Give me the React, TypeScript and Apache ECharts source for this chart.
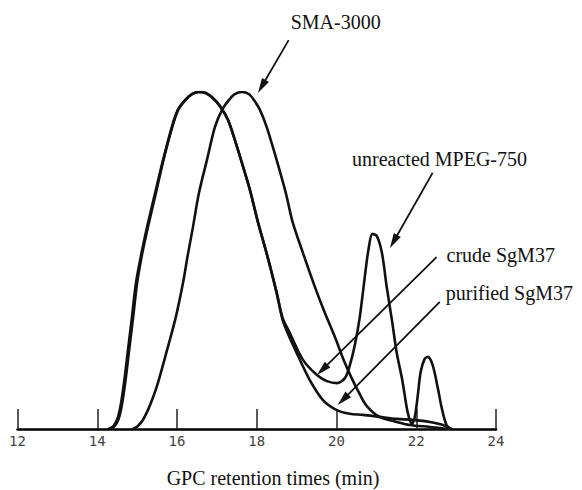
import React, { useEffect, useRef } from "react";
import * as echarts from "echarts";

// GPC traces: [retention time (min), detector response (% of peak)]
const smaTrace: [number, number][] = [
  [14.9, 0], [15.02, 0.9], [15.14, 2.6], [15.27, 5.6], [15.4, 9.4],
  [15.52, 13.6], [15.75, 23.4],
  [15.97, 33.2], [16.15, 43.3], [16.27, 51.6], [16.4, 59.9], [16.55, 70.0],
  [16.75, 79.8], [16.95, 89.6], [17.13, 94.7], [17.3, 97.6], [17.45, 99.4],
  [17.63, 100], [17.8, 99.4], [17.93, 97.6], [18.08, 94.7], [18.25, 89.6],
  [18.5, 79.8], [18.73, 70.0], [18.9, 61.4], [19.16, 52.2], [19.46, 42.1],
  [19.71, 34.4], [19.96, 27.3], [20.18, 20.5], [20.38, 15.1], [20.58, 10.4],
  [20.76, 6.8], [21.08, 3.6], [21.51, 2.1], [21.84, 1.2], [22.34, 0.6],
  [22.79, 0],
];

const crudeTrace: [number, number][] = [
  [14.28, 0], [14.4, 0.8], [14.5, 2.8], [14.58, 6.6], [14.67, 13.6], [14.77, 23.4],
  [14.87, 33.2], [14.97, 43.3], [15.1, 51.6], [15.25, 59.9], [15.45, 70.0],
  [15.65, 79.8], [15.87, 89.6], [16.02, 94.7], [16.2, 97.6], [16.37, 99.4],
  [16.55, 100], [16.72, 99.7], [16.87, 98.5], [17.08, 95.8], [17.28, 91.7],
  [17.45, 85.8], [17.63, 78.9], [17.83, 70.9], [18.03, 61.4], [18.28, 50.7],
  [18.5, 40.4], [18.65, 32.9], [18.83, 28.5], [19.16, 20.5], [19.51, 16.0],
  [19.76, 14.2], [20.01, 13.6], [20.21, 15.1], [20.33, 18.7], [20.46, 24.9],
  [20.58, 32.9], [20.7, 44.2], [20.8, 53.1], [20.9, 57.9], [21.01, 57.3],
  [21.14, 52.2], [21.26, 42.1], [21.39, 32.3], [21.51, 22.6], [21.64, 15.1],
  [21.71, 10.1], [21.79, 4.7], [21.89, 1.5], [21.96, 3.3], [22.04, 10.1],
  [22.11, 16.9], [22.21, 20.8], [22.29, 21.4], [22.41, 19.0], [22.54, 12.2],
  [22.64, 6.2], [22.76, 1.2], [22.89, 0],
];

const purifiedTrace: [number, number][] = [
  [14.31, 0], [14.43, 0.8], [14.53, 2.8], [14.61, 6.6], [14.7, 13.6], [14.8, 23.4],
  [14.9, 33.2], [15.0, 43.3], [15.12, 51.6], [15.27, 59.9], [15.47, 70.0],
  [15.66, 79.8], [15.88, 89.6], [16.03, 94.7], [16.21, 97.6], [16.38, 99.4],
  [16.55, 100], [16.72, 99.7], [16.87, 98.5], [17.08, 95.8], [17.28, 91.7],
  [17.45, 85.8], [17.63, 78.9], [17.83, 70.9], [18.03, 61.4], [18.28, 50.7],
  [18.5, 40.4], [18.65, 32.3], [18.83, 27.0], [19.0, 22.6], [19.33, 14.5],
  [19.66, 8.6], [20.01, 5.6], [20.33, 4.5], [20.66, 4.2], [21.08, 3.6],
  [21.51, 3.0], [21.91, 2.7], [22.34, 2.1], [22.67, 1.2], [22.84, 0],
];

const timeTicks = [12, 14, 16, 18, 20, 22, 24];
const axisTitle = "GPC retention times (min)";

// Callouts, placed in data space: label anchor, arrow tail and arrow tip
const callouts = [
  { text: "SMA-3000", label: [19.98, 120.8], align: "center", tail: [18.8, 115.4], tip: [18.03, 99.7] },
  { text: "unreacted MPEG-750", label: [20.39, 80.1], align: "left", tail: [22.41, 76.0], tip: [21.34, 53.7] },
  { text: "crude SgM37", label: [22.76, 51.6], align: "left", tail: [22.51, 51.0], tip: [19.51, 16.0] },
  { text: "purified SgM37", label: [22.74, 40.4], align: "left", tail: [22.59, 37.7], tip: [20.03, 7.1] },
];

const SERIF = '"Liberation Serif", "Times New Roman", serif';

function traceSeries(name: string, data: [number, number][]) {
  return {
    name,
    type: "line",
    data,
    showSymbol: false,
    smooth: 0.3,
    lineStyle: { color: "#111", width: 2.6, cap: "round", join: "round" },
  };
}

function arrow(tail: number[], tip: number[], width: number) {
  const dx = tip[0] - tail[0];
  const dy = tip[1] - tail[1];
  const len = Math.sqrt(dx * dx + dy * dy) || 1;
  const ux = dx / len;
  const uy = dy / len;
  const headLen = 15;
  const half = 4;
  const bx = tip[0] - ux * headLen;
  const by = tip[1] - uy * headLen;
  return [
    {
      type: "line",
      shape: { x1: tail[0], y1: tail[1], x2: bx + ux * 2, y2: by + uy * 2 },
      style: { stroke: "#111", lineWidth: width },
    },
    {
      type: "polygon",
      shape: {
        points: [
          [tip[0], tip[1]],
          [bx - uy * half, by + ux * half],
          [bx + uy * half, by - ux * half],
        ],
      },
      style: { fill: "#111" },
    },
  ];
}

export default function App() {
  const ref = useRef<HTMLDivElement>(null);

  useEffect(() => {
    document.body.style.margin = "0";
    if (!ref.current) return;
    const chart = echarts.init(ref.current, undefined, { renderer: "svg" });
    chart.setOption({
      animation: false,
      backgroundColor: "#fff",
      grid: { left: 17.5, right: 86, top: 92, bottom: 61 },
      xAxis: {
        type: "value",
        min: 12,
        max: 24,
        interval: 2,
        axisLine: { lineStyle: { color: "#000", width: 2.5 } },
        axisTick: { inside: true, length: 20, lineStyle: { color: "#222", width: 1.5 } },
        axisLabel: {
          margin: 5,
          fontFamily: '"DejaVu Sans Mono", monospace',
          fontSize: 14,
          color: "#444",
          customValues: timeTicks,
          formatter: (v: number) => String(v),
        },
        splitLine: { show: false },
      },
      yAxis: { type: "value", min: 0, max: 100, show: false },
      series: [
        traceSeries("SMA-3000", smaTrace),
        traceSeries("crude SgM37", crudeTrace),
        traceSeries("purified SgM37", purifiedTrace),
      ],
    });

    const toPx = (p: number[]) => chart.convertToPixel({ gridIndex: 0 }, p) as number[];
    const graphics: any[] = [];
    callouts.forEach((c) => {
      const at = toPx(c.label);
      graphics.push({
        type: "text",
        x: at[0],
        y: at[1],
        style: {
          text: c.text,
          fontFamily: SERIF,
          fontSize: 20,
          fill: "#111",
          textAlign: c.align,
          textVerticalAlign: "middle",
        },
      });
      graphics.push(...arrow(toPx(c.tail), toPx(c.tip), 1.8));
    });
    graphics.push({
      type: "text",
      x: 273,
      y: 478,
      style: {
        text: axisTitle,
        fontFamily: SERIF,
        fontSize: 20,
        fill: "#111",
        textAlign: "center",
        textVerticalAlign: "middle",
      },
    });
    chart.setOption({ graphic: graphics });

    return () => chart.dispose();
  }, []);

  return <div ref={ref} style={{ width: 582, height: 490 }} />;
}
